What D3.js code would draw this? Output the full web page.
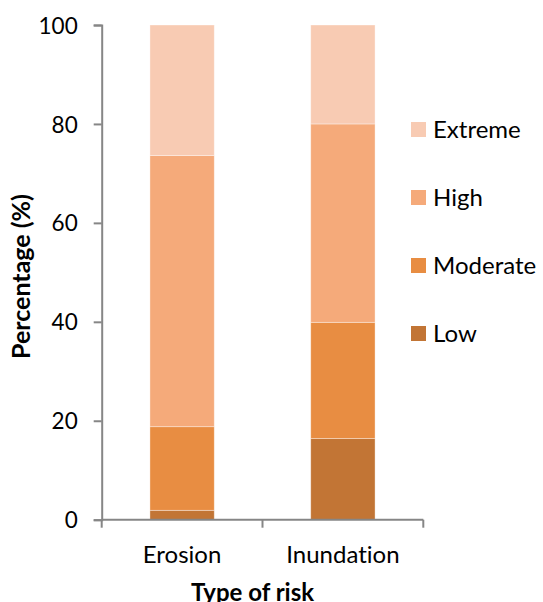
<!DOCTYPE html>
<html>
<head>
<meta charset="utf-8">
<script src="https://cdn.jsdelivr.net/npm/d3@7"></script>
<style>
  body { margin: 0; background: #fff; }
  svg text { font-family: Lato, "Open Sans", sans-serif; fill: #000; font-variant-ligatures: none; }
</style>
</head>
<body>
<svg id="chart" width="543" height="602"></svg>
<script>
// categories + stacked series (percent)
const categories = ["Erosion", "Inundation"];
const levels = ["Low", "Moderate", "High", "Extreme"];
const low      = [1.9, 16.4];
const moderate = [16.9, 23.5];
const high     = [54.8, 40.1];
const extreme  = [26.4, 20.0];
const yTicks = [0, 20, 40, 60, 80, 100];

const colors = {
  Low: "#c27535",
  Moderate: "#e88d42",
  High: "#f5aa7a",
  Extreme: "#f8cbb3"
};

// build rows for d3.stack
const rows = categories.map((c, i) => ({
  cat: c, Low: low[i], Moderate: moderate[i], High: high[i], Extreme: extreme[i]
}));

const svg = d3.select("#chart");
// plot edges (note: "top" is taken by window.top)
const plotL = 101.7, plotR = 423.3, plotT = 25, plotB = 519.7;

const x = d3.scaleBand().domain(categories).range([plotL, plotR]).paddingInner(0).paddingOuter(0);
const y = d3.scaleLinear().domain([0, 100]).range([plotB, plotT]);
const barW = x.bandwidth() * 0.4;

const series = d3.stack().keys(levels)(rows);

const barG = svg.append("g");
barG.selectAll("g")
  .data(series)
  .enter()
  .append("g")
  .attr("fill", d => colors[d.key])
  .selectAll("rect")
  .data(d => d)
  .enter()
  .append("rect")
  .attr("x", d => x(d.data.cat) + (x.bandwidth() - barW) / 2)
  .attr("width", barW)
  .attr("y", d => y(d[1]))
  .attr("height", d => y(d[0]) - y(d[1]))
  .attr("stroke", "rgba(255,255,255,0.45)")
  .attr("stroke-width", 0.8);

// y axis
const yAxis = svg.append("g")
  .attr("transform", `translate(${plotL},0)`)
  .call(d3.axisLeft(y).tickValues(yTicks).tickSize(8).tickPadding(16));
yAxis.select(".domain").attr("stroke", "#868686").attr("stroke-width", 2);
yAxis.selectAll(".tick line").attr("stroke", "#868686").attr("stroke-width", 2);
yAxis.selectAll(".tick text")
  .attr("fill", "#000")
  .style("font-family", "Lato, sans-serif")
  .style("font-size", "22.5px")
  .attr("dy", "0.36em");

// x axis (ticks at band edges)
const xAxisG = svg.append("g").attr("transform", `translate(0,${plotB})`);
xAxisG.append("line")
  .attr("x1", plotL).attr("x2", plotR)
  .attr("stroke", "#868686").attr("stroke-width", 2);
const edges = categories.map(c => x(c)).concat([x(categories[categories.length - 1]) + x.bandwidth()]);
xAxisG.selectAll("line.edge")
  .data(edges)
  .enter()
  .append("line")
  .attr("class", "edge")
  .attr("x1", d => d).attr("x2", d => d)
  .attr("y1", 0).attr("y2", 8)
  .attr("stroke", "#868686").attr("stroke-width", 2);
xAxisG.selectAll("text")
  .data(categories)
  .enter()
  .append("text")
  .attr("x", d => x(d) + x.bandwidth() / 2)
  .attr("y", 43.5)
  .attr("text-anchor", "middle")
  .style("font-size", "24px")
  .text(d => d);

// axis titles
svg.append("text")
  .attr("transform", `translate(30,276.5) rotate(-90)`)
  .attr("text-anchor", "middle")
  .style("font-size", "25px")
  .style("font-weight", "bold")
  .text("Percentage (%)");

svg.append("text")
  .attr("x", 252.5)
  .attr("y", 601)
  .attr("text-anchor", "middle")
  .style("font-size", "24px")
  .style("font-weight", "bold")
  .text("Type of risk");

// legend, top to bottom = Extreme..Low
const legendItems = levels.slice().reverse();
const legend = svg.append("g")
  .selectAll("g")
  .data(legendItems)
  .enter()
  .append("g")
  .attr("transform", (d, i) => `translate(411,${122 + i * 68})`);
legend.append("rect")
  .attr("width", 15).attr("height", 15)
  .attr("fill", d => colors[d]);
legend.append("text")
  .attr("x", 22)
  .attr("y", 15.7)
  .style("font-size", "24px")
  .text(d => d);
</script>
</body>
</html>
